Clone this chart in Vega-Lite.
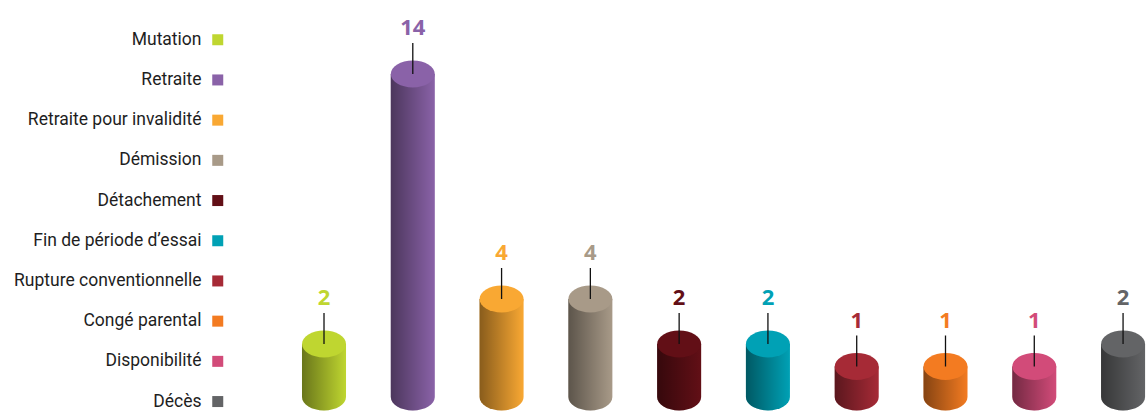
{
  "$schema": "https://vega.github.io/schema/vega-lite/v6.json",
  "autosize": "none",
  "padding": {"left": 280, "top": 0, "right": 0, "bottom": 23},
  "width": 866,
  "height": 389,
  "background": "white",
  "config": {"view": {"stroke": null}},
  "data": {"values": [
    {"cat": "Mutation", "value": 2},
    {"cat": "Retraite", "value": 14},
    {"cat": "Retraite pour invalidité", "value": 4},
    {"cat": "Démission", "value": 4},
    {"cat": "Détachement", "value": 2},
    {"cat": "Fin de période d’essai", "value": 2},
    {"cat": "Rupture conventionnelle", "value": 1},
    {"cat": "Congé parental", "value": 1},
    {"cat": "Disponibilité", "value": 1},
    {"cat": "Décès", "value": 2}
  ]},
  "encoding": {
    "x": {"field": "cat", "type": "nominal", "sort": null, "axis": null,
      "scale": {"type": "band", "paddingInner": 0.504, "paddingOuter": 0.129, "align": 0.96}}
  },
  "layer": [
    {
      "mark": {"type": "bar"},
      "encoding": {
        "y": {"field": "value", "type": "quantitative", "axis": null,
          "scale": {"domain": [0, 17.29], "nice": false, "zero": true}},
        "color": {"field": "cat", "type": "nominal",
          "scale": {
            "domain": ["Mutation", "Retraite", "Retraite pour invalidité", "Démission", "Détachement", "Fin de période d’essai", "Rupture conventionnelle", "Congé parental", "Disponibilité", "Décès"],
            "range": ["#bfd630", "#8a62a8", "#f9a833", "#a89a88", "#620f16", "#00a1b5", "#a62a36", "#f37b21", "#d24b79", "#636466"]
          },
          "legend": {
            "title": null, "orient": "none", "legendX": -71, "legendY": 31,
            "direction": "vertical", "columns": 1, "padding": 0,
            "symbolType": "square", "symbolSize": 121, "symbolStrokeWidth": 0, "symbolOpacity": 1,
            "labelAlign": "right", "labelOffset": -25, "labelFont": "Roboto", "labelFontSize": 17.5,
            "labelColor": "#1e1e1e", "labelLimit": 0, "rowPadding": 21.2, "labelBaseline": "middle"
          }
        }
      }
    },
    {
      "mark": {"type": "bar",
        "fill": {"gradient": "linear", "x1": 0, "x2": 1, "y1": 0, "y2": 0,
          "stops": [{"offset": 0, "color": "rgba(0,0,0,0.45)"}, {"offset": 1, "color": "rgba(0,0,0,0)"}]}},
      "encoding": {"y": {"field": "value", "type": "quantitative"}}
    },
    {
      "mark": {"type": "point", "filled": true, "opacity": 1, "strokeWidth": 0, "size": 1936, "yOffset": 8,
        "shape": "M-1,-0.3636L-1,0A1,0.61,0,0,0,1,0L1,-0.3636Z"},
      "encoding": {"y": {"datum": 0}, "color": {"field": "cat", "type": "nominal"}}
    },
    {
      "mark": {"type": "point", "filled": true, "opacity": 1, "strokeWidth": 0, "size": 1936, "yOffset": 8,
        "shape": "M-1,-0.3636L-1,0A1,0.61,0,0,0,1,0L1,-0.3636Z",
        "fill": {"gradient": "linear", "x1": 0, "x2": 1, "y1": 0, "y2": 0,
          "stops": [{"offset": 0, "color": "rgba(0,0,0,0.45)"}, {"offset": 1, "color": "rgba(0,0,0,0)"}]}},
      "encoding": {"y": {"datum": 0}}
    },
    {
      "mark": {"type": "point", "filled": true, "opacity": 1, "strokeWidth": 0, "size": 1936,
        "shape": "M-1,0A1,0.61,0,1,0,1,0A1,0.61,0,1,0,-1,0Z"},
      "encoding": {"y": {"field": "value", "type": "quantitative"}, "color": {"field": "cat", "type": "nominal"}}
    },
    {
      "mark": {"type": "rule", "color": "#111111", "strokeWidth": 1.3, "y2Offset": -31},
      "encoding": {"y": {"field": "value", "type": "quantitative"}, "y2": {"field": "value"}}
    },
    {
      "mark": {"type": "text", "dy": -46, "font": "Noto Sans", "fontWeight": "bold", "fontSize": 22, "baseline": "middle"},
      "encoding": {"y": {"field": "value", "type": "quantitative"}, "text": {"field": "value", "type": "quantitative"}, "color": {"field": "cat", "type": "nominal"}}
    }
  ]
}
